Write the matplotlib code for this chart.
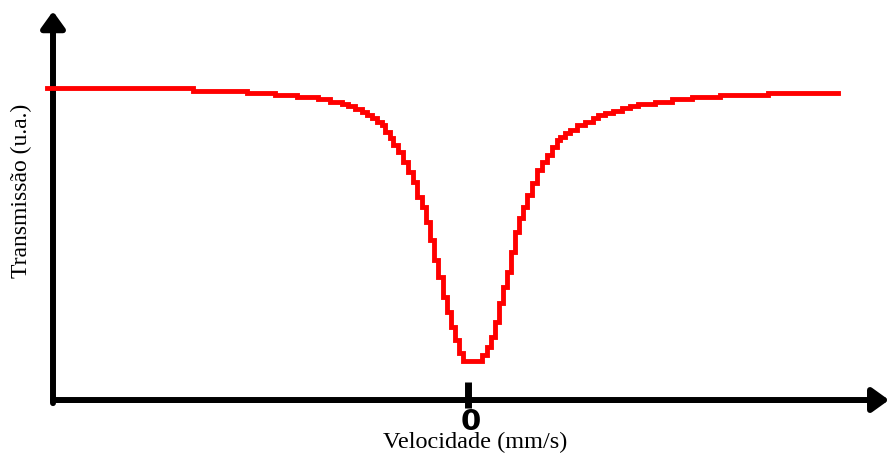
import matplotlib
matplotlib.use("Agg")
import matplotlib.pyplot as plt

# espectro de transmissão (velocidade em mm/s, transmissão em u.a.)
velocidade = [-4.21, -2.75, -2.21, -1.93, -1.71, -1.50, -1.38, -1.26, -1.20, -1.13,
              -1.06, -1.01, -0.96, -0.91, -0.86, -0.83, -0.78, -0.75, -0.70, -0.65,
              -0.60, -0.55, -0.51, -0.46, -0.42, -0.38, -0.34, -0.30, -0.25, -0.21,
              -0.17, -0.13, -0.09, -0.05, 0.14, 0.19, 0.23, 0.27, 0.31, 0.35,
              0.39, 0.43, 0.47, 0.51, 0.55, 0.59, 0.64, 0.69, 0.74, 0.79,
              0.84, 0.89, 0.92, 0.97, 1.02, 1.09, 1.17, 1.25, 1.30, 1.37,
              1.45, 1.54, 1.62, 1.70, 1.87, 2.04, 2.24, 2.52, 3.00, 3.70]
transmissao = [1.003, 0.994, 0.987, 0.981, 0.974, 0.968, 0.958, 0.952, 0.945, 0.936,
               0.926, 0.916, 0.907, 0.894, 0.884, 0.862, 0.842, 0.820, 0.797, 0.765,
               0.733, 0.701, 0.653, 0.621, 0.572, 0.514, 0.450, 0.395, 0.331, 0.283,
               0.235, 0.193, 0.151, 0.125, 0.145, 0.170, 0.203, 0.251, 0.312, 0.363,
               0.412, 0.476, 0.540, 0.585, 0.621, 0.659, 0.698, 0.740, 0.765, 0.788,
               0.814, 0.836, 0.846, 0.859, 0.868, 0.884, 0.894, 0.907, 0.916, 0.923,
               0.929, 0.939, 0.945, 0.952, 0.958, 0.968, 0.974, 0.981, 0.987, 0.987]

fig = plt.figure(figsize=(8.89, 4.55), dpi=100)
ax = fig.add_axes([0, 0, 1, 1])
ax.set_xlim(-4.68, 4.21)
ax.set_ylim(-0.1768, 1.2862)
ax.axis("off")

ax.plot(velocidade, transmissao, color="#ff0000", lw=3.5, drawstyle="steps-post",
        solid_joinstyle="miter", zorder=3)

# eixos com setas
seta = dict(arrowstyle="-|>,head_length=0.5,head_width=0.36", mutation_scale=20,
            color="black", lw=4.3, shrinkA=0, shrinkB=0)
ax.annotate("", xy=(-4.15, 1.25), xytext=(-4.15, -0.01), arrowprops=seta, zorder=2)
ax.annotate("", xy=(4.21, 0.0), xytext=(-4.15, 0.0), arrowprops=seta, zorder=2)

# marca do zero
ax.plot([0.0, 0.0], [-0.026, 0.058], color="black", lw=5, solid_capstyle="butt", zorder=2)
ax.text(0.03, -0.070, "0", ha="center", va="center", fontsize=21, fontweight="bold",
        family="DejaVu Sans")

ax.text(0.07, -0.154, "Velocidade (mm/s)", ha="center", va="baseline", fontsize=17.5,
        family="Liberation Serif")
ax.text(-4.47, 0.672, "Transmissão (u.a.)", ha="center", va="center", rotation=90,
        fontsize=17, family="Liberation Serif")

fig.savefig("out.png", dpi=100)
